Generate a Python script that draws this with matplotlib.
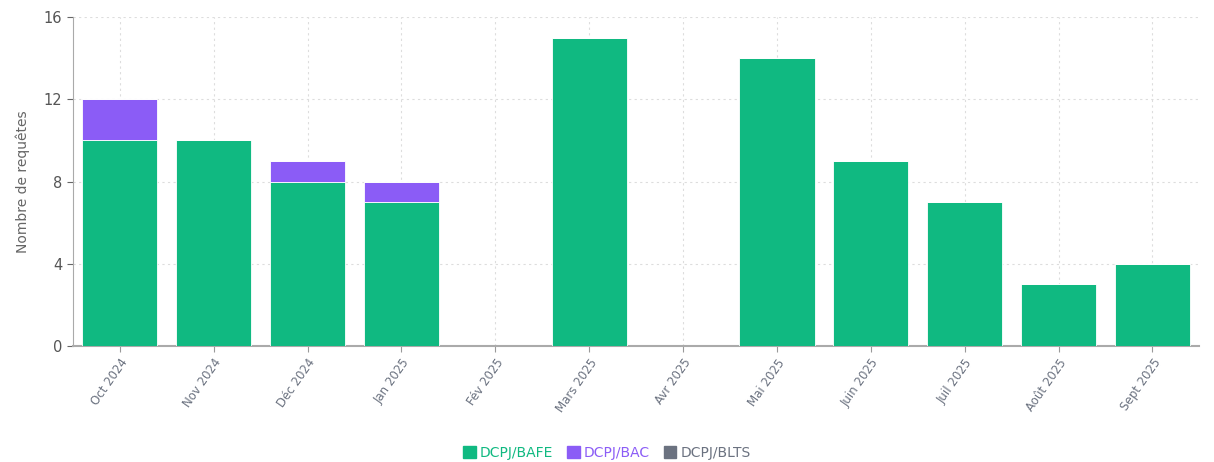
import numpy as np
import matplotlib.pyplot as plt
from matplotlib.patches import Patch

# Data
months = ["Oct 2024", "Nov 2024", "Déc 2024", "Jan 2025", "Fév 2025", "Mars 2025",
          "Avr 2025", "Mai 2025", "Juin 2025", "Juil 2025", "Août 2025", "Sept 2025"]
bafe = [10, 10, 8, 7, 0, 15, 0, 14, 9, 7, 3, 4]
bac = [2, 0, 1, 1, 0, 0, 0, 0, 0, 0, 0, 0]
blts = [0, 0, 0, 0, 0, 0, 0, 0, 0, 0, 0, 0]

series_names = ["DCPJ/BAFE", "DCPJ/BAC", "DCPJ/BLTS"]
colors = ["#10b981", "#8b5cf6", "#6b7280"]

fig = plt.figure(figsize=(12.14, 4.62), dpi=100)
ax = fig.add_axes([0.060, 0.251, 0.928, 0.712])

x = np.arange(len(months))
bottom = np.zeros(len(months))
for name, vals, col in zip(series_names, [bafe, bac, blts], colors):
    ax.bar(x, vals, width=0.8, bottom=bottom, color=col, edgecolor="white",
           linewidth=0.6, zorder=3, label=name)
    bottom += np.array(vals)

ax.set_xlim(-0.5, len(months) - 0.5)
ax.set_ylim(0, 16)
ax.set_yticks([0, 4, 8, 12, 16])
ax.set_xticks(x)
ax.set_xticklabels(months, rotation=55, ha="right", rotation_mode="anchor",
                   fontsize=8.5, color="#6b7280")
ax.tick_params(axis="y", labelsize=10.5, colors="#666666", length=4)
ax.tick_params(axis="x", length=4, color="#999999")
for lab in ax.get_yticklabels():
    lab.set_color("#555555")

ax.grid(True, linestyle=(0, (2, 3)), color="#dddddd", linewidth=0.8, zorder=0)
for side in ["top", "right"]:
    ax.spines[side].set_visible(False)
ax.spines["left"].set_color("#aaaaaa")
ax.spines["bottom"].set_color("#aaaaaa")
ax.spines["bottom"].set_linewidth(1.5)

ax.set_ylabel("Nombre de requêtes", fontsize=10, color="#666666", labelpad=10)

handles = [Patch(facecolor=c, edgecolor=c) for c in colors]
leg = fig.legend(handles, series_names, loc="center", bbox_to_anchor=(0.5, 0.02),
                 ncol=3, frameon=False, fontsize=10, handlelength=0.9, handleheight=0.9,
                 handletextpad=0.3, columnspacing=1.0)
for txt, c in zip(leg.get_texts(), colors):
    txt.set_color(c)

fig.savefig("out.png", dpi=100)
